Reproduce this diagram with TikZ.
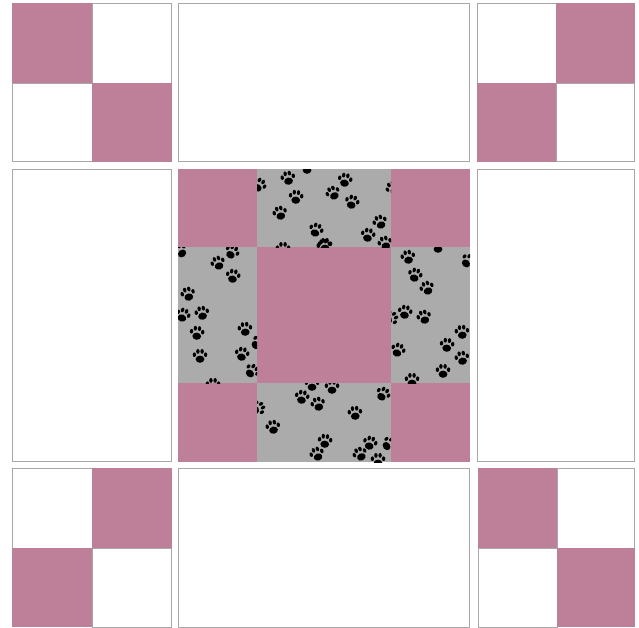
\documentclass[tikz,border=0pt]{standalone}

\definecolor{rose}{HTML}{BD8098}
\definecolor{pawgray}{HTML}{ABABAB}
\definecolor{seam}{HTML}{A8A8A8}

\tikzset{
  rosepatch/.style={fill=rose},
  whitepatch/.style={fill=white, draw=seam, line width=1pt},
  graypatch/.style={fill=pawgray},
  paw/.pic={
    \fill (0,3.2) ellipse (4.4 and 3.6);
    \fill (-5.6,-1.3) ellipse (1.7 and 2.3);
    \fill (-2.1,-4.6) ellipse (1.7 and 2.4);
    \fill (2.1,-4.6) ellipse (1.7 and 2.4);
    \fill (5.6,-1.3) ellipse (1.7 and 2.3);
  }
}

\begin{document}
\begin{tikzpicture}[x=1pt, y=-1pt]
  \useasboundingbox (0,0) rectangle (639,627);

  % Top row
  \fill[rosepatch] (12,3) rectangle (92,83);
  \draw[whitepatch] (92,3.5) rectangle (171.5,83);
  \draw[whitepatch] (12.5,83) rectangle (92,161.5);
  \fill[rosepatch] (92,83) rectangle (172,162);
  \draw[whitepatch] (178.5,3.5) rectangle (469.5,161.5);
  \draw[whitepatch] (477.5,3.5) rectangle (556,83);
  \fill[rosepatch] (556,3) rectangle (635,83);
  \fill[rosepatch] (477,83) rectangle (556,162);
  \draw[whitepatch] (556,83) rectangle (634.5,161.5);

  % Middle row
  \draw[whitepatch] (12.5,169.5) rectangle (171.5,461.5);
  \draw[whitepatch] (477.5,169.5) rectangle (634.5,461.5);

  % Nine patch
  \fill[rosepatch] (178,169) rectangle (257,247);
  \fill[rosepatch] (391,169) rectangle (470,247);
  \fill[rosepatch] (257,247) rectangle (391,383);
  \fill[rosepatch] (178,383) rectangle (257,462);
  \fill[rosepatch] (391,383) rectangle (470,462);

  % Paw print patches
  \begin{scope}
    \clip (257,169) rectangle (391,247);
    \fill[graypatch] (257,169) rectangle (391,247);
    \foreach \x/\y/\a in {288/178/10, 296/197/-5, 280/213/15, 316/230/-20,
        283/249/0, 324/246/10, 259/185/-30, 307/167/0,
        345/180/-10, 333/193/25, 352/202/-15, 380/222/20, 368/235/-10,
        385/243/15, 325/245/0, 393/188/30}
      \pic[rotate=\a] at (\x,\y) {paw};
  \end{scope}
  \begin{scope}
    \clip (178,247) rectangle (257,383);
    \fill[graypatch] (178,247) rectangle (257,383);
    \foreach \x/\y/\a in {232/252/-30, 218/263/20, 233/276/-10, 188/294/15,
        180/251/40, 183/315/-20, 202/313/10, 197/333/-5, 245/329/5,
        200/356/0, 242/354/-10, 252/371/-40, 213/385/0, 258/343/-50}
      \pic[rotate=\a] at (\x,\y) {paw};
  \end{scope}
  \begin{scope}
    \clip (391,247) rectangle (470,383);
    \fill[graypatch] (391,247) rectangle (470,383);
    \foreach \x/\y/\a in {408/257/10, 415/275/-15, 427/288/20, 468/261/-40,
        438/246/0, 405/312/-10, 424/317/15, 462/332/5, 447/345/-5,
        398/350/-20, 462/358/10, 443/371/0, 412/380/0, 391/318/-60}
      \pic[rotate=\a] at (\x,\y) {paw};
  \end{scope}
  \begin{scope}
    \clip (257,383) rectangle (391,462);
    \fill[graypatch] (257,383) rectangle (391,462);
    \foreach \x/\y/\a in {312/384/0, 302/397/-10, 318/404/15, 258/408/-60,
        273/427/10, 325/441/-5, 317/454/20, 332/387/0, 383/394/-30,
        355/413/5, 370/443/-15, 360/454/25,
        378/460/0, 389/444/-50}
      \pic[rotate=\a] at (\x,\y) {paw};
  \end{scope}

  % Bottom row
  \draw[whitepatch] (12.5,468.5) rectangle (92,548);
  \fill[rosepatch] (92,468) rectangle (172,548);
  \fill[rosepatch] (12,548) rectangle (92,627);
  \draw[whitepatch] (92,548) rectangle (171.5,627);
  \draw[whitepatch] (178.5,468.5) rectangle (469.5,627);
  \fill[rosepatch] (478,468) rectangle (557,548);
  \draw[whitepatch] (557,468.5) rectangle (634.5,548);
  \draw[whitepatch] (478.5,548) rectangle (557,627);
  \fill[rosepatch] (557,548) rectangle (635,627);
\end{tikzpicture}
\end{document}
